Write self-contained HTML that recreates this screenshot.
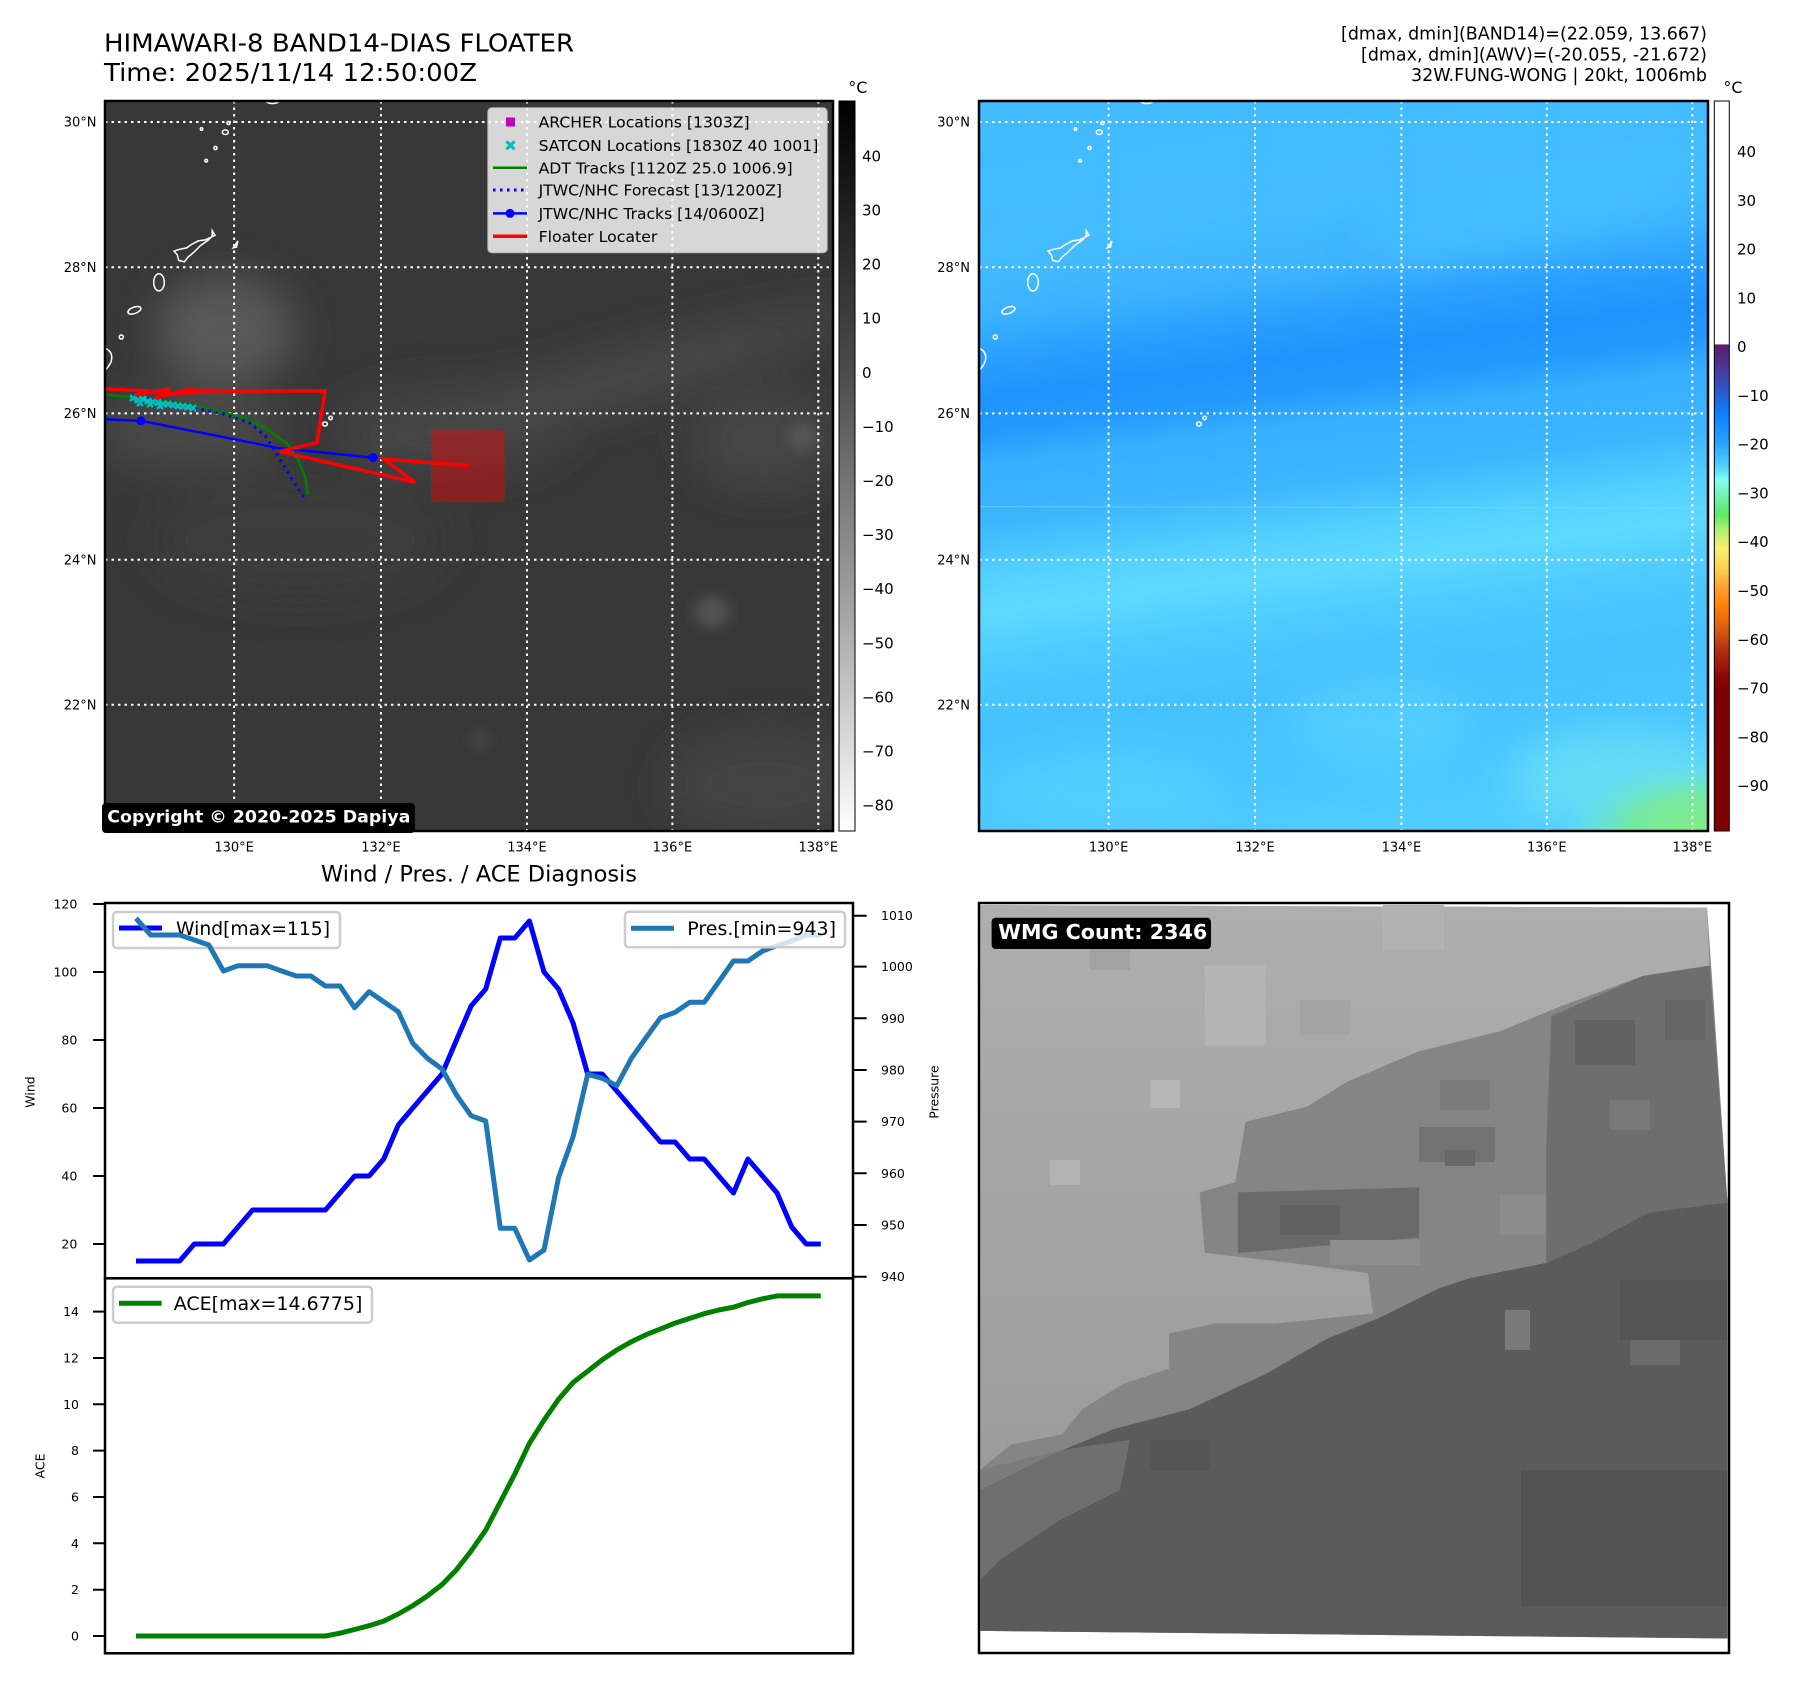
<!DOCTYPE html>
<html><head><meta charset="utf-8"><style>
html,body{margin:0;padding:0;background:#fff;overflow:hidden;}
svg{display:block;font-family:"DejaVu Sans","Liberation Sans",sans-serif;}
</style></head><body>
<svg width="1797" height="1690" viewBox="0 0 1797 1690" xmlns="http://www.w3.org/2000/svg">
<defs>
<clipPath id="cl"><rect x="105" y="101" width="728" height="730"/></clipPath>
<clipPath id="cr"><rect x="979" y="101" width="729" height="730"/></clipPath>
<clipPath id="cb"><rect x="979" y="903" width="750" height="750"/></clipPath>
<filter id="bl" x="-50%" y="-50%" width="200%" height="200%"><feGaussianBlur stdDeviation="20"/></filter>
<filter id="bls" x="-50%" y="-50%" width="200%" height="200%"><feGaussianBlur stdDeviation="6"/></filter>
<linearGradient id="gcb" x1="0" y1="0" x2="0" y2="1">
<stop offset="0" stop-color="#000"/><stop offset="0.37" stop-color="#4c4c4c"/><stop offset="0.7" stop-color="#a4a4a4"/><stop offset="1" stop-color="#fff"/>
</linearGradient>
<linearGradient id="rcb" x1="0" y1="0" x2="0" y2="1">
<stop offset="0" stop-color="#fff"/><stop offset="0.333" stop-color="#fff"/>
<stop offset="0.334" stop-color="#5c1a6e"/><stop offset="0.367" stop-color="#4a3a9a"/>
<stop offset="0.4" stop-color="#2a5ad0"/><stop offset="0.427" stop-color="#0a80ff"/>
<stop offset="0.467" stop-color="#2aa0ff"/><stop offset="0.5" stop-color="#50d0ff"/>
<stop offset="0.52" stop-color="#80ffee"/><stop offset="0.547" stop-color="#70f0a0"/>
<stop offset="0.567" stop-color="#60e860"/><stop offset="0.587" stop-color="#b0f070"/>
<stop offset="0.613" stop-color="#f8f070"/><stop offset="0.64" stop-color="#ffd050"/>
<stop offset="0.667" stop-color="#ffa030"/><stop offset="0.693" stop-color="#ff8000"/>
<stop offset="0.72" stop-color="#e06010"/><stop offset="0.753" stop-color="#b03010"/>
<stop offset="0.787" stop-color="#900808"/><stop offset="0.807" stop-color="#800000"/>
<stop offset="1" stop-color="#800000"/>
</linearGradient>
<linearGradient id="rg" gradientUnits="userSpaceOnUse" x1="0" y1="101" x2="0" y2="831" gradientTransform="rotate(-7.5 1343 466)">
<stop offset="0" stop-color="#42baff"/><stop offset="0.136" stop-color="#44bdff"/>
<stop offset="0.23" stop-color="#3db3ff"/><stop offset="0.29" stop-color="#2a9fff"/>
<stop offset="0.345" stop-color="#1f93fb"/><stop offset="0.39" stop-color="#2399fd"/>
<stop offset="0.437" stop-color="#36b0ff"/><stop offset="0.515" stop-color="#3cb6ff"/>
<stop offset="0.585" stop-color="#54d0ff"/><stop offset="0.636" stop-color="#5dd9ff"/>
<stop offset="0.697" stop-color="#4fcbff"/><stop offset="0.793" stop-color="#45c1ff"/>
<stop offset="0.903" stop-color="#4ac6ff"/><stop offset="1" stop-color="#50ccff"/>
</linearGradient>
<radialGradient id="grn" cx="1708" cy="835" r="150" gradientUnits="userSpaceOnUse" gradientTransform="translate(1708 835) scale(1 0.5) translate(-1708 -835)">
<stop offset="0" stop-color="#86f07a"/><stop offset="0.55" stop-color="#7aec90" stop-opacity="0.8"/><stop offset="1" stop-color="#6ae8e0" stop-opacity="0"/>
</radialGradient>
<linearGradient id="lg" gradientUnits="userSpaceOnUse" x1="0" y1="905" x2="0" y2="1470">
<stop offset="0" stop-color="#aeaeae"/><stop offset="1" stop-color="#9c9c9c"/>
</linearGradient>
</defs>

<!-- Titles -->
<text x="104" y="51.7" font-size="25" textLength="470" lengthAdjust="spacingAndGlyphs">HIMAWARI-8 BAND14-DIAS FLOATER</text>
<text x="104" y="81" font-size="25" textLength="373" lengthAdjust="spacingAndGlyphs">Time: 2025/11/14 12:50:00Z</text>
<text x="1707" y="39.5" font-size="17.5" text-anchor="end" textLength="366" lengthAdjust="spacingAndGlyphs">[dmax, dmin](BAND14)=(22.059, 13.667)</text>
<text x="1707" y="60.3" font-size="17.5" text-anchor="end" textLength="346" lengthAdjust="spacingAndGlyphs">[dmax, dmin](AWV)=(-20.055, -21.672)</text>
<text x="1707" y="81" font-size="17.5" text-anchor="end" textLength="296" lengthAdjust="spacingAndGlyphs">32W.FUNG-WONG | 20kt, 1006mb</text>

<!-- LEFT MAP -->
<g clip-path="url(#cl)">
<rect x="105" y="101" width="728" height="730" fill="#383838"/>
<g filter="url(#bl)">
<ellipse cx="225" cy="330" rx="70" ry="55" fill="#6a6a6a" opacity="0.65"/>
<ellipse cx="190" cy="430" rx="95" ry="40" fill="#585858" opacity="0.55"/>
<ellipse cx="600" cy="385" rx="260" ry="30" fill="#555" opacity="0.5" transform="rotate(-16 600 385)"/>
<ellipse cx="450" cy="430" rx="120" ry="45" fill="#4a4a4a" opacity="0.5"/>
<ellipse cx="765" cy="440" rx="75" ry="50" fill="#545454" opacity="0.5"/>
<ellipse cx="765" cy="785" rx="100" ry="55" fill="#4e4e4e" opacity="0.5"/>
<ellipse cx="300" cy="540" rx="150" ry="60" fill="#424242" opacity="0.45"/>
</g>
<g filter="url(#bls)">
<ellipse cx="712" cy="612" rx="18" ry="16" fill="#5e5e5e" opacity="0.7"/>
<ellipse cx="480" cy="740" rx="10" ry="7" fill="#555" opacity="0.6"/>
<ellipse cx="803" cy="437" rx="14" ry="14" fill="#5e5e5e" opacity="0.7"/>
</g>
<g stroke="#fff" stroke-width="2" stroke-dasharray="2.5 4" fill="none">
<path d="M105,122H833M105,267.3H833M105,413.4H833M105,559.7H833M105,704.7H833"/>
<path d="M234.1,101V831M381,101V831M527,101V831M672.4,101V831M818.3,101V831"/>
</g>
<g id="isl" stroke="#fff" stroke-width="1.5" fill="none">
<ellipse cx="272.5" cy="99" rx="8" ry="4.5"/>
<circle cx="228.5" cy="123" r="1.6"/>
<ellipse cx="225.3" cy="132.2" rx="3" ry="2.3"/>
<circle cx="201.5" cy="129" r="1.2"/>
<circle cx="215.5" cy="148" r="1.6"/>
<circle cx="206.2" cy="160.7" r="1.3"/>
<polygon points="212.2,230.6 215,235.3 205.2,239.9 198.2,240.9 191.2,244.6 186.6,247.9 179.6,249.3 174,251.1 177.3,254.8 178.7,260.4 184.3,261.8 188,257.2 193.6,252.5 200.6,245.5 208.5,239.9 212.2,236.2"/>
<polygon points="233.2,247.9 237.9,240.9 236.5,247"/>
<ellipse cx="159" cy="282.3" rx="5.3" ry="8.6"/>
<ellipse cx="134.4" cy="310.3" rx="6.8" ry="3.2" transform="rotate(-20 134.4 310.3)"/>
<circle cx="121.3" cy="337" r="2"/>
<path d="M105,348 Q114,352 111,362 Q108,368 105,370"/>
<ellipse cx="325" cy="424" rx="2.4" ry="2"/>
<circle cx="330.6" cy="418" r="1.7"/>
</g>
<rect x="431.3" y="430.1" width="73.2" height="71.8" fill="#ff0000" fill-opacity="0.4"/>
<polyline points="105,394.7 151.6,399.4 198,406.4 245,418 268,429.7 286.8,443.7 298.5,460 305.5,478.6 307.8,495" fill="none" stroke="#008000" stroke-width="2.5"/>
<polyline points="133,396 175,405 221.5,413.3 249.5,422.7 265.8,436.7 277.5,455.3 291.5,478.6 305.5,499.6" fill="none" stroke="#0000ff" stroke-width="3" stroke-dasharray="2.5 4.5"/>
<path d="M130,395l6,6m-6,0l6,-6M135,397l6,6m-6,0l6,-6M140,396l6,6m-6,0l6,-6M145,398l6,6m-6,0l6,-6M150,399l6,6m-6,0l6,-6M155,399.5l6,6m-6,0l6,-6M160,401l6,6m-6,0l6,-6M165,401l6,6m-6,0l6,-6M170,402l6,6m-6,0l6,-6M175,403l6,6m-6,0l6,-6M180,403.5l6,6m-6,0l6,-6M185,404l6,6m-6,0l6,-6M190,405l6,6m-6,0l6,-6M137,400l6,6m-6,0l6,-6M147,401l6,6m-6,0l6,-6M157,403l6,6m-6,0l6,-6" stroke="#00bfbf" stroke-width="2.3" fill="none"/>
<polyline points="105,419.4 140.9,420.8 279.8,448.3 373,457.6" fill="none" stroke="#0000ff" stroke-width="2.5"/>
<circle cx="140.9" cy="420.8" r="4.5" fill="#0000ff"/>
<circle cx="373" cy="457.6" r="4.5" fill="#0000ff"/>
<polyline points="105,389 150,391 135,395 170,389 155,398 190,389 205,392 165,394 210,390 180,392 212,391 325,391 317,442.7 279.8,451.6 415,482.3 383.3,459 468.6,465.6" fill="none" stroke="#ff0000" stroke-width="3.5" stroke-linejoin="miter"/>
<!-- legend -->
<rect x="488" y="108" width="339" height="144.5" rx="4" fill="#fff" fill-opacity="0.8" stroke="#ccc" stroke-opacity="0.8" stroke-width="1.5"/>
<rect x="506" y="117.5" width="9" height="9" fill="#bf00bf"/>
<path d="M506.5,141.3l8,8m-8,0l8,-8" stroke="#00bfbf" stroke-width="3"/>
<line x1="493" y1="167.7" x2="527" y2="167.7" stroke="#008000" stroke-width="2.5"/>
<line x1="493" y1="190" x2="527" y2="190" stroke="#0000ff" stroke-width="3" stroke-dasharray="2.5 4.5"/>
<line x1="493" y1="213.4" x2="527" y2="213.4" stroke="#0000ff" stroke-width="2.5"/>
<circle cx="510" cy="213.4" r="4.5" fill="#0000ff"/>
<line x1="493" y1="236.2" x2="527" y2="236.2" stroke="#ff0000" stroke-width="3.5"/>
<g font-size="15.5" fill="#000">
<text x="538.6" y="127.6" textLength="211" lengthAdjust="spacingAndGlyphs">ARCHER Locations [1303Z]</text>
<text x="538.6" y="150.9" textLength="279.7" lengthAdjust="spacingAndGlyphs">SATCON Locations [1830Z 40 1001]</text>
<text x="538.6" y="173.3" textLength="254" lengthAdjust="spacingAndGlyphs">ADT Tracks [1120Z 25.0 1006.9]</text>
<text x="538.6" y="195.6" textLength="243.4" lengthAdjust="spacingAndGlyphs">JTWC/NHC Forecast [13/1200Z]</text>
<text x="538.6" y="219" textLength="226" lengthAdjust="spacingAndGlyphs">JTWC/NHC Tracks [14/0600Z]</text>
<text x="538.6" y="241.8" textLength="118.8" lengthAdjust="spacingAndGlyphs">Floater Locater</text>
</g>
</g>
<rect x="102" y="803" width="313" height="30" rx="4" fill="#000"/>
<text x="107.3" y="822.7" font-size="17" font-weight="bold" fill="#fff" textLength="303" lengthAdjust="spacingAndGlyphs">Copyright © 2020-2025 Dapiya</text>
<rect x="105" y="101" width="728" height="730" fill="none" stroke="#000" stroke-width="2.5"/>

<!-- left colorbar -->
<rect x="839" y="101" width="16" height="730" fill="url(#gcb)" stroke="#000" stroke-width="1"/>
<text x="857.8" y="93" font-size="16" text-anchor="middle">°C</text>
<g font-size="15">
<text x="862" y="161.4">40</text><text x="862" y="215.5">30</text><text x="862" y="269.6">20</text>
<text x="862" y="323.7">10</text><text x="862" y="377.8">0</text><text x="862" y="431.9">−10</text>
<text x="862" y="486">−20</text><text x="862" y="540.1">−30</text><text x="862" y="594.2">−40</text>
<text x="862" y="648.3">−50</text><text x="862" y="702.4">−60</text><text x="862" y="756.5">−70</text>
<text x="862" y="810.6">−80</text>
</g>

<!-- map tick labels -->
<g font-size="13">
<g text-anchor="end">
<text x="96.5" y="126.7">30°N</text><text x="96.5" y="272">28°N</text><text x="96.5" y="418.1">26°N</text>
<text x="96.5" y="564.4">24°N</text><text x="96.5" y="709.4">22°N</text>
<text x="970" y="126.7">30°N</text><text x="970" y="272">28°N</text><text x="970" y="418.1">26°N</text>
<text x="970" y="564.4">24°N</text><text x="970" y="709.4">22°N</text>
</g>
<g text-anchor="middle">
<text x="234.1" y="851.7">130°E</text><text x="381" y="851.7">132°E</text><text x="527" y="851.7">134°E</text>
<text x="672.4" y="851.7">136°E</text><text x="818.3" y="851.7">138°E</text>
<text x="1108.6" y="851.7">130°E</text><text x="1255" y="851.7">132°E</text><text x="1401.4" y="851.7">134°E</text>
<text x="1546.8" y="851.7">136°E</text><text x="1692.3" y="851.7">138°E</text>
</g>
</g>

<!-- RIGHT MAP -->
<g clip-path="url(#cr)">
<rect x="979" y="101" width="729" height="730" fill="url(#rg)"/>
<g filter="url(#bl)">
<ellipse cx="1380" cy="720" rx="90" ry="45" fill="#5ad4ff" opacity="0.6"/>
<ellipse cx="1100" cy="790" rx="120" ry="40" fill="#58d2ff" opacity="0.6"/>
<ellipse cx="1620" cy="780" rx="110" ry="50" fill="#6ee4f2" opacity="0.7"/>
<ellipse cx="1540" cy="210" rx="180" ry="25" fill="#4ac4ff" opacity="0.6" transform="rotate(-12 1540 210)"/>
</g>
<rect x="1500" y="700" width="208" height="131" fill="url(#grn)"/>
<line x1="979" y1="506.6" x2="1708" y2="508" stroke="#7ad8ff" stroke-width="1" opacity="0.6"/>
<g stroke="#fff" stroke-width="2" stroke-dasharray="2.5 4" fill="none">
<path d="M979,122H1708M979,267.3H1708M979,413.4H1708M979,559.7H1708M979,704.7H1708"/>
<path d="M1108.6,101V831M1255,101V831M1401.4,101V831M1546.8,101V831M1692.3,101V831"/>
</g>
<use href="#isl" transform="translate(874 0)"/>
</g>
<rect x="979" y="101" width="729" height="730" fill="none" stroke="#000" stroke-width="2.5"/>

<!-- right colorbar -->
<rect x="1714.3" y="101" width="15" height="730" fill="url(#rcb)" stroke="#000" stroke-width="1"/>
<text x="1733" y="93" font-size="16" text-anchor="middle">°C</text>
<g font-size="15">
<text x="1737" y="157">40</text><text x="1737" y="205.8">30</text><text x="1737" y="254.6">20</text>
<text x="1737" y="303.3">10</text><text x="1737" y="352.1">0</text><text x="1737" y="400.9">−10</text>
<text x="1737" y="449.7">−20</text><text x="1737" y="498.5">−30</text><text x="1737" y="547.2">−40</text>
<text x="1737" y="596">−50</text><text x="1737" y="644.8">−60</text><text x="1737" y="693.6">−70</text>
<text x="1737" y="742.4">−80</text><text x="1737" y="791.2">−90</text>
</g>

<!-- BOTTOM LEFT CHART -->
<text x="479" y="881.7" font-size="22" text-anchor="middle" textLength="316" lengthAdjust="spacingAndGlyphs">Wind / Pres. / ACE Diagnosis</text>
<polyline points="136,1261 150.6,1261 165.1,1261 179.7,1261 194.3,1244 208.9,1244 223.4,1244 238,1227 252.6,1210 267.1,1210 281.7,1210 296.3,1210 310.8,1210 325.4,1210 340,1193 354.6,1176 369.1,1176 383.7,1159 398.3,1125 412.8,1108 427.4,1091 442,1074 456.5,1040 471.1,1006 485.7,989 500.3,938 514.8,938 529.4,921 544,972 558.5,989 573.1,1023 587.7,1074 602.2,1074 616.8,1091 631.4,1108 646,1125 660.5,1142 675.1,1142 689.7,1159 704.2,1159 718.8,1176 733.4,1193 747.9,1159 762.5,1176 777.1,1193 791.7,1227 806.2,1244 820.8,1244" fill="none" stroke="#0000ff" stroke-width="5" stroke-linejoin="round"/>
<rect x="113" y="912" width="227" height="36" rx="4" fill="#fff" fill-opacity="0.8" stroke="#ccc" stroke-width="2.5"/>
<line x1="119" y1="928" x2="162" y2="928" stroke="#0000ff" stroke-width="5"/>
<text x="176" y="934.8" font-size="19" textLength="154" lengthAdjust="spacingAndGlyphs">Wind[max=115]</text>
<polyline points="136,918.3 150.6,935 165.1,935 179.7,935 194.3,940 208.9,945 223.4,971 238,965.7 252.6,965.7 267.1,965.7 281.7,971 296.3,976 310.8,976 325.4,986 340,986 354.6,1007.7 369.1,991.7 383.7,1001.7 398.3,1011.7 412.8,1043.3 427.4,1058.3 442,1069 456.5,1095 471.1,1115.7 485.7,1121 500.3,1228.3 514.8,1228.3 529.4,1260 544,1250 558.5,1177.7 573.1,1136.7 587.7,1074.3 602.2,1078.3 616.8,1085.7 631.4,1058.3 646,1037.7 660.5,1017.7 675.1,1012.3 689.7,1002.3 704.2,1002.3 718.8,981.7 733.4,961 747.9,961 762.5,951 777.1,945.7 791.7,941 806.2,935 820.8,935" fill="none" stroke="#1f77b4" stroke-width="5" stroke-linejoin="round"/>
<rect x="625" y="911.7" width="220" height="35.6" rx="4" fill="#fff" fill-opacity="0.8" stroke="#ccc" stroke-width="2.5"/>
<line x1="631" y1="928.3" x2="674" y2="928.3" stroke="#1f77b4" stroke-width="5"/>
<text x="687.3" y="935" font-size="19" textLength="148.7" lengthAdjust="spacingAndGlyphs">Pres.[min=943]</text>

<polyline points="136,1636 150.6,1636 165.1,1636 179.7,1636 194.3,1636 208.9,1636 223.4,1636 238,1636 252.6,1636 267.1,1636 281.7,1636 296.3,1636 310.8,1636 325.4,1636 340,1633.2 354.6,1629.5 369.1,1625.7 383.7,1621.1 398.3,1614 412.8,1605.7 427.4,1595.9 442,1584.6 456.5,1569.7 471.1,1551 485.7,1530.1 500.3,1502 514.8,1474 529.4,1443.3 544,1420.2 558.5,1399.3 573.1,1382.5 587.7,1371.2 602.2,1359.8 616.8,1350 631.4,1341.7 646,1334.7 660.5,1328.9 675.1,1323.1 689.7,1318.4 704.2,1313.7 718.8,1310 733.4,1307.2 747.9,1302.5 762.5,1298.8 777.1,1295.9 791.7,1295.9 806.2,1295.9 820.8,1295.9" fill="none" stroke="#008000" stroke-width="5" stroke-linejoin="round"/>
<rect x="113" y="1286.7" width="259" height="36" rx="4" fill="#fff" fill-opacity="0.8" stroke="#ccc" stroke-width="2.5"/>
<line x1="119" y1="1303.3" x2="161.6" y2="1303.3" stroke="#008000" stroke-width="5"/>
<text x="173.7" y="1310.1" font-size="19" textLength="188.7" lengthAdjust="spacingAndGlyphs">ACE[max=14.6775]</text>

<g fill="none" stroke="#000" stroke-width="2.5">
<rect x="105" y="903" width="748" height="375.3"/>
<rect x="105" y="1278.3" width="748" height="375"/>
</g>
<g stroke="#000" stroke-width="2">
<path d="M93,904H105M93,972H105M93,1040H105M93,1108H105M93,1176H105M93,1244H105"/>
<path d="M853,915.7H866.7M853,966.6H866.7M853,1018.3H866.7M853,1070H866.7M853,1121.6H866.7M853,1173.3H866.7M853,1225H866.7M853,1276.7H866.7"/>
<path d="M93,1636H105M93,1589.7H105M93,1543.3H105M93,1497H105M93,1450.6H105M93,1404.3H105M93,1358H105M93,1311.6H105"/>
</g>
<g font-size="12.5">
<g text-anchor="end">
<text x="77.3" y="908.5">120</text><text x="77.3" y="976.5">100</text><text x="77.3" y="1044.5">80</text>
<text x="77.3" y="1112.5">60</text><text x="77.3" y="1180.5">40</text><text x="77.3" y="1248.5">20</text>
<text x="79" y="1640.5">0</text><text x="79" y="1594.2">2</text><text x="79" y="1547.8">4</text>
<text x="79" y="1501.5">6</text><text x="79" y="1455.1">8</text><text x="79" y="1408.8">10</text>
<text x="79" y="1362.5">12</text><text x="79" y="1316.1">14</text>
</g>
<text x="881" y="920.2">1010</text><text x="881" y="971.1">1000</text><text x="881" y="1022.8">990</text>
<text x="881" y="1074.5">980</text><text x="881" y="1126.1">970</text><text x="881" y="1177.8">960</text>
<text x="881" y="1229.5">950</text><text x="881" y="1281.2">940</text>
<text transform="translate(30 1092) rotate(-90)" text-anchor="middle" dominant-baseline="central">Wind</text>
<text transform="translate(934 1092) rotate(-90)" text-anchor="middle" dominant-baseline="central">Pressure</text>
<text transform="translate(40 1466) rotate(-90)" text-anchor="middle" dominant-baseline="central">ACE</text>
</g>

<!-- BOTTOM RIGHT PANEL -->
<g clip-path="url(#cb)">
<rect x="979" y="903" width="750" height="750" fill="#fff"/>
<polygon points="980.4,905.1 1707.1,907.6 1727.5,1202.5 1727.5,1638.5 980.4,1630.9" fill="#858585"/>
<polygon points="1551.5,1016 1643.3,975.7 1709.6,965.6 1727.5,1202.5 1648.4,1212.6 1592.3,1242.8 1546.4,1263 1546.4,1142" fill="#6e6e6e"/>
<polygon points="980.4,905.1 1707.1,907.6 1709.6,965.6 1643.3,975.7 1561.7,1005.9 1500.5,1031.1 1419,1051.3 1347.6,1081.5 1306.8,1106.7 1245.6,1121.9 1235.4,1182.3 1199.7,1192.4 1204.8,1252.9 1291.5,1263 1368,1273.1 1373,1313.4 1276.2,1323.5 1215,1323.5 1169.1,1333.5 1169.1,1368.8 1123.2,1383.9 1082.4,1409.1 1062,1434.4 1011,1444.4 980.4,1469.6" fill="url(#lg)"/>
<rect x="1204.8" y="965.6" width="61" height="80" fill="#b4b4b4"/>
<rect x="1383" y="905" width="61" height="45" fill="#b2b2b2"/>
<rect x="1150" y="1080" width="30" height="28" fill="#b6b6b6"/>
<rect x="1050" y="1160" width="30" height="25" fill="#b4b4b4"/>
<rect x="1090" y="940" width="40" height="30" fill="#a2a2a2"/>
<rect x="1300" y="1000" width="50" height="35" fill="#a4a4a4"/>
<rect x="1575" y="1020" width="60" height="45" fill="#626262"/>
<rect x="1665" y="1000" width="40" height="40" fill="#666"/>
<rect x="1610" y="1100" width="40" height="30" fill="#787878"/>
<rect x="1440" y="1080" width="50" height="30" fill="#7c7c7c"/>
<polygon points="1237.9,1192.4 1419,1187.4 1419,1237.8 1237.9,1252.9" fill="#6a6a6a"/>
<rect x="1280" y="1205" width="60" height="30" fill="#626262"/>
<rect x="1419" y="1127" width="76" height="35" fill="#727272"/>
<rect x="1445" y="1150" width="30" height="16" fill="#686868"/>
<rect x="1330" y="1240" width="90" height="25" fill="#8e8e8e"/>
<rect x="1500" y="1195" width="45" height="40" fill="#8c8c8c"/>
<polygon points="1727.5,1202.5 1648.4,1212.6 1592.3,1242.8 1546.4,1263 1469.9,1278.1 1439.3,1288.2 1378.2,1318.4 1327.2,1338.6 1266,1373.9 1189.5,1409.2 1113,1429.3 1051.8,1454.5 980.4,1489.8 980.4,1630.9 1727.5,1638.5" fill="#5b5b5b"/>
<rect x="1521" y="1470" width="206.5" height="136" fill="#525252"/>
<rect x="1620" y="1280" width="107" height="60" fill="#545454"/>
<rect x="1505" y="1310" width="25" height="40" fill="#7a7a7a"/>
<rect x="1630" y="1340" width="50" height="25" fill="#6a6a6a"/>
<rect x="1150" y="1440" width="60" height="30" fill="#555"/>
<polygon points="980.4,1470 1060,1450 1130,1440 1120,1490 1060,1520 1000,1560 980.4,1580" fill="#777" opacity="0.7"/>
<rect x="991.6" y="917.7" width="219.4" height="31.3" rx="4" fill="#000"/>
<text x="998.2" y="938.9" font-size="20" font-weight="bold" fill="#fff" textLength="209" lengthAdjust="spacingAndGlyphs">WMG Count: 2346</text>
</g>
<rect x="979" y="903" width="750" height="750" fill="none" stroke="#000" stroke-width="2.5"/>
</svg>
</body></html>
